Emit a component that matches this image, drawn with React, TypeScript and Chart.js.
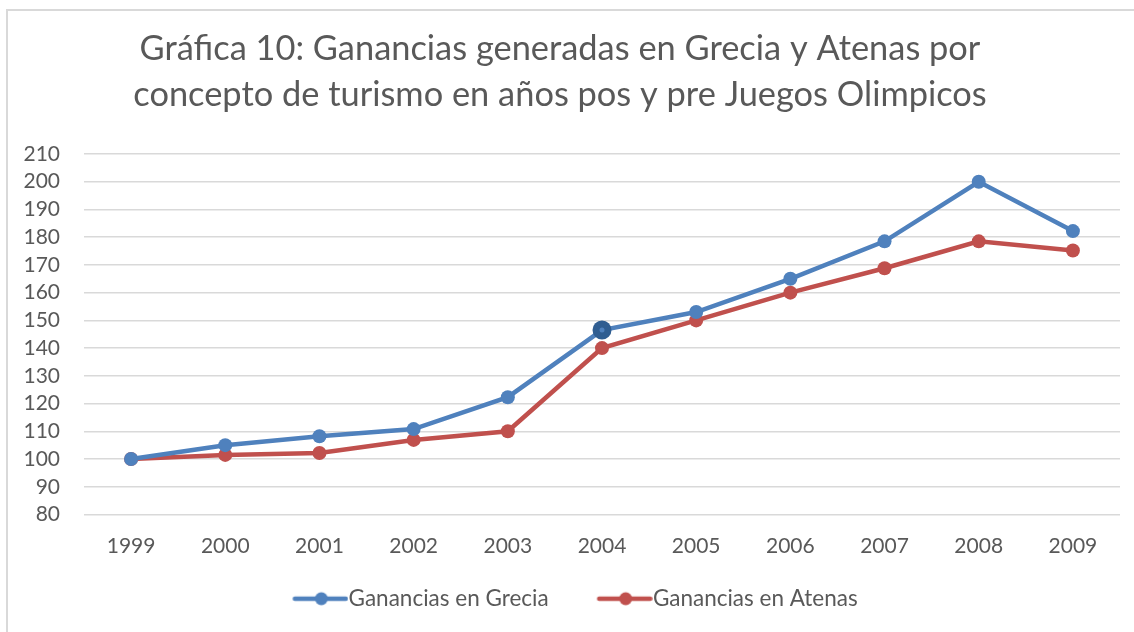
import React, { useEffect, useRef } from "react";
import { Chart, registerables } from "chart.js";

Chart.register(...registerables);

const years = ["1999", "2000", "2001", "2002", "2003", "2004", "2005", "2006", "2007", "2008", "2009"];
const grecia = [100, 105, 108.2, 110.8, 122.3, 146.5, 153, 165, 178.5, 200, 182.2];
const atenas = [100, 101.5, 102.2, 106.9, 110, 140, 150, 160, 168.8, 178.5, 175.2];
const titleLines = [
  "Gráfica 10: Ganancias generadas en Grecia y Atenas por",
  "concepto de turismo en años pos y pre Juegos Olimpicos",
];
const seriesNames = ["Ganancias en Grecia", "Ganancias en Atenas"];

const BLUE = "#4F81BD";
const RED = "#C0504D";
const DARK_BLUE = "#2F5D91";
const TEXT = "#595959";
const FONT = "Lato";
const LEG_FONT = 22.5;

function legendIcon(color: string, boxW: number): HTMLCanvasElement {
  const W = boxW + LEG_FONT;
  const H = 16;
  const c = document.createElement("canvas");
  c.width = W;
  c.height = H;
  const ctx = c.getContext("2d")!;
  const x1 = W - 56;
  const x2 = W - 1;
  ctx.strokeStyle = color;
  ctx.lineWidth = 4.5;
  ctx.lineCap = "round";
  ctx.beginPath();
  ctx.moveTo(x1 + 2, H / 2);
  ctx.lineTo(x2 - 2, H / 2);
  ctx.stroke();
  ctx.fillStyle = color;
  ctx.beginPath();
  ctx.arc((x1 + x2) / 2 + 1, H / 2, 6.5, 0, Math.PI * 2);
  ctx.fill();
  return c;
}

export default function App() {
  const ref = useRef<HTMLCanvasElement>(null);
  useEffect(() => {
    document.body.style.margin = "0";
    const X_H = 55;
    const LEG_PAD = 73 - X_H;
    const BOX_W = 93 - LEG_PAD;
    const icons = [legendIcon(BLUE, BOX_W), legendIcon(RED, BOX_W)];
    const highlight = {
      id: "highlight",
      afterDatasetsDraw(chart: any) {
        const meta = chart.getDatasetMeta(0);
        const pt = meta.data[5];
        if (!pt) return;
        const ctx = chart.ctx;
        ctx.save();
        ctx.fillStyle = BLUE;
        ctx.beginPath();
        ctx.arc(pt.x, pt.y, 2.5, 0, Math.PI * 2);
        ctx.fill();
        ctx.restore();
      },
    };
    const chart = new Chart(ref.current!, {
      type: "line",
      data: {
        labels: years,
        datasets: [
          {
            label: seriesNames[0],
            data: grecia,
            borderColor: BLUE,
            backgroundColor: BLUE,
            borderWidth: 4.5,
            pointRadius: years.map((_, i) => (i === 5 ? 9.5 : 7)),
            pointBackgroundColor: years.map((_, i) => (i === 5 ? DARK_BLUE : BLUE)),
            pointBorderWidth: 0,
            tension: 0,
          },
          {
            label: seriesNames[1],
            data: atenas,
            borderColor: RED,
            backgroundColor: RED,
            borderWidth: 4.5,
            pointRadius: 7,
            pointBackgroundColor: RED,
            pointBorderWidth: 0,
            tension: 0,
          },
        ],
      },
      options: {
        animation: false,
        responsive: false,
        layout: { padding: { left: 0, right: 14, top: 0, bottom: 12 } },
        plugins: {
          title: {
            display: true,
            text: titleLines,
            color: TEXT,
            font: { family: FONT, size: 34.4, weight: "normal", lineHeight: "46px" },
            padding: { top: 26, bottom: 36 },
          },
          legend: {
            position: "bottom",
            labels: {
              usePointStyle: true,
              pointStyleWidth: BOX_W,
              padding: LEG_PAD,
              color: TEXT,
              font: { family: FONT, size: LEG_FONT },
              generateLabels: () =>
                seriesNames.map((n, i) => ({
                  text: n,
                  fillStyle: i === 0 ? BLUE : RED,
                  strokeStyle: i === 0 ? BLUE : RED,
                  pointStyle: icons[i] as any,
                  datasetIndex: i,
                  hidden: false,
                  lineWidth: 0,
                  fontColor: TEXT,
                })),
            },
          },
          tooltip: { enabled: false },
        },
        scales: {
          x: {
            offset: true,
            grid: { display: false, drawTicks: false },
            border: { display: false },
            ticks: { color: TEXT, font: { family: FONT, size: 21 }, padding: 19, maxRotation: 0, autoSkip: false },
            afterFit: (s: any) => {
              s.height = X_H;
            },
          },
          y: {
            min: 80,
            max: 210,
            ticks: { stepSize: 10, color: TEXT, font: { family: FONT, size: 21 }, padding: 24, autoSkip: false },
            grid: { color: "#d9d9d9", lineWidth: 1.5, drawTicks: false },
            border: { display: false },
            afterFit: (s: any) => {
              s.width = 84;
            },
          },
        },
      },
      plugins: [highlight],
    });
    return () => chart.destroy();
  }, []);
  return (
    <div style={{ position: "relative", width: 1134, height: 632, overflow: "hidden", background: "#fff" }}>
      <div
        style={{
          position: "absolute",
          left: 6,
          top: 9,
          width: 1200,
          height: 700,
          border: "2px solid #d9d9d9",
        }}
      />
      <canvas ref={ref} width={1134} height={632} style={{ position: "absolute", left: 0, top: 0 }} />
    </div>
  );
}
